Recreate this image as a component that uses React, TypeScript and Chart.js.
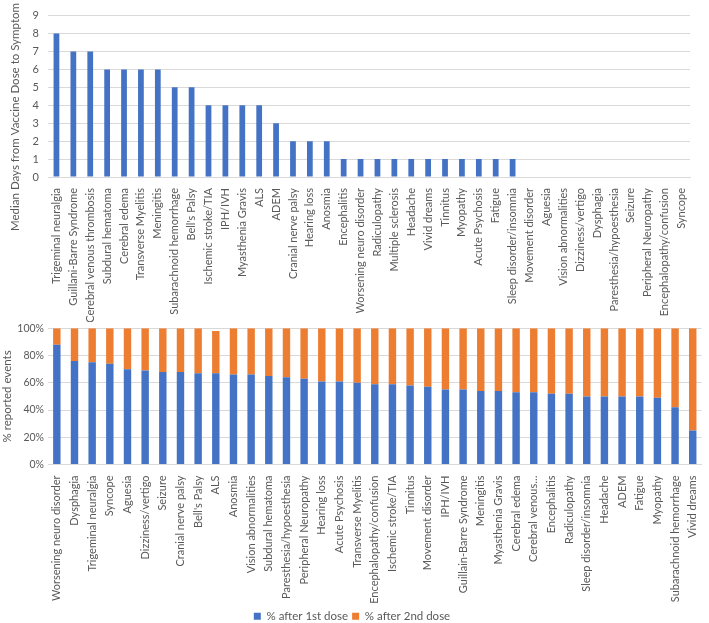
import React, { useEffect, useRef } from "react";
import { Chart, registerables } from "chart.js";

Chart.register(...registerables);

const topCategories = [
  "Trigeminal neuralgia", "Guillani-Barre Syndrome", "Cerebral venous thrombosis", "Subdural hematoma",
  "Cerebral edema", "Transverse Myelitis", "Meningitis", "Subarachnoid hemorrhage", "Bell's Palsy",
  "Ischemic stroke/TIA", "IPH/IVH", "Myasthenia Gravis", "ALS", "ADEM", "Cranial nerve palsy",
  "Hearing loss", "Anosmia", "Encephalitis", "Worsening neuro disorder", "Radiculopathy",
  "Multiple sclerosis", "Headache", "Vivid dreams", "Tinnitus", "Myopathy", "Acute Psychosis",
  "Fatigue", "Sleep disorder/insomnia", "Movement disorder", "Aguesia", "Vision abnormalities",
  "Dizziness/vertigo", "Dysphagia", "Paresthesia/hypoesthesia", "Seizure", "Peripheral Neuropathy",
  "Encephalopathy/confusion", "Syncope",
];
const medianDays = [
  8, 7, 7, 6, 6, 6, 6, 5, 5, 4, 4, 4, 4, 3, 2, 2, 2, 1, 1, 1, 1, 1, 1, 1, 1, 1, 1, 1,
  0, 0, 0, 0, 0, 0, 0, 0, 0, 0,
];
const topTicks = [0, 1, 2, 3, 4, 5, 6, 7, 8, 9];
const topTitle = "Median Days from Vaccine Dose to Symptom";

const bottomCategories = [
  "Worsening neuro disorder", "Dysphagia", "Trigeminal neuralgia", "Syncope", "Aguesia",
  "Dizziness/vertigo", "Seizure", "Cranial nerve palsy", "Bell's Palsy", "ALS", "Anosmia",
  "Vision abnormalities", "Subdural hematoma", "Paresthesia/hypoesthesia", "Peripheral Neuropathy",
  "Hearing loss", "Acute Psychosis", "Transverse Myelitis", "Encephalopathy/confusion",
  "Ischemic stroke/TIA", "Tinnitus", "Movement disorder", "IPH/IVH", "Guillain-Barre Syndrome",
  "Meningitis", "Myasthenia Gravis", "Cerebral edema", "Cerebral venous…", "Encephalitis",
  "Radiculopathy", "Sleep disorder/insomnia", "Headache", "ADEM", "Fatigue", "Myopathy",
  "Subarachnoid hemorrhage", "Vivid dreams",
];
const afterFirstDose = [
  88, 76, 75, 74, 70, 69, 68, 68, 67, 67, 66, 66, 65, 64, 63, 61, 61, 60, 59, 59, 58, 57,
  55, 55, 54, 54, 53, 53, 52, 52, 50, 50, 50, 50, 49, 42, 25,
];
const afterSecondDose = [
  12, 24, 25, 26, 30, 31, 32, 32, 33, 31, 34, 34, 35, 36, 37, 39, 39, 40, 41, 41, 42, 43,
  45, 45, 46, 46, 47, 47, 48, 48, 50, 50, 50, 50, 51, 58, 75,
];
const percentTicks = [0, 10, 20, 30, 40, 50, 60, 70, 80, 90, 100];

const BLUE = "#4472C4";
const ORANGE = "#ED7D31";
const GRID = "#D9D9D9";
const TEXT = "#595959";
const FONT = "Lato, 'Open Sans', sans-serif";

export default function App() {
  const topRef = useRef<HTMLCanvasElement>(null);
  const botRef = useRef<HTMLCanvasElement>(null);

  useEffect(() => {
    Chart.defaults.font.family = FONT;
    Chart.defaults.color = TEXT;

    const yTitlePlugin = {
      id: "yTitle",
      afterDraw(chart: any) {
        const ctx = chart.ctx;
        ctx.save();
        ctx.translate(15, 117);
        ctx.rotate(-Math.PI / 2);
        ctx.font = "11.5px " + FONT;
        ctx.fillStyle = TEXT;
        ctx.textAlign = "center";
        ctx.textBaseline = "middle";
        ctx.fillText(topTitle, 0, 0);
        ctx.restore();
      },
    };

    const top = new Chart(topRef.current!, {
      type: "bar",
      data: {
        labels: topCategories,
        datasets: [
          {
            label: "Median days",
            data: medianDays,
            backgroundColor: BLUE,
            barPercentage: 0.34,
            categoryPercentage: 1,
          },
        ],
      },
      options: {
        animation: false,
        responsive: false,
        layout: { padding: { top: 0, right: 19, left: 0, bottom: 0 } },
        plugins: { legend: { display: false }, tooltip: { enabled: false } },
        scales: {
          x: {
            grid: { display: false },
            border: { color: GRID },
            ticks: {
              autoSkip: false,
              minRotation: 90,
              maxRotation: 90,
              font: { size: 11 },
              color: TEXT,
              padding: 3,
            },
            afterFit: (s: any) => {
              s.height = 145;
            },
          },
          y: {
            min: 0,
            max: 9,
            afterBuildTicks: (s: any) => {
              s.ticks = topTicks.map((v) => ({ value: v }));
            },
            grid: { color: GRID, drawTicks: false },
            border: { display: false },
            ticks: { font: { size: 11 }, color: TEXT, padding: 9 },
            afterFit: (s: any) => {
              s.width = 48;
            },
          },
        },
      },
      plugins: [yTitlePlugin],
    });

    const bot = new Chart(botRef.current!, {
      type: "bar",
      data: {
        labels: bottomCategories,
        datasets: [
          {
            label: "% after 1st dose",
            data: afterFirstDose,
            backgroundColor: BLUE,
            barPercentage: 0.42,
            categoryPercentage: 1,
          },
          {
            label: "% after 2nd dose",
            data: afterSecondDose,
            backgroundColor: ORANGE,
            barPercentage: 0.42,
            categoryPercentage: 1,
          },
        ],
      },
      options: {
        animation: false,
        responsive: false,
        layout: { padding: { top: 0, right: 5, left: 0, bottom: -9 } },
        plugins: {
          legend: {
            display: true,
            position: "bottom",
            labels: {
              boxWidth: 7,
              boxHeight: 7,
              font: { size: 11.5 },
              color: TEXT,
              padding: 4,
            },
          },
          tooltip: { enabled: false },
        },
        scales: {
          x: {
            stacked: true,
            grid: { display: false },
            border: { color: GRID },
            ticks: {
              autoSkip: false,
              minRotation: 90,
              maxRotation: 90,
              font: { size: 11 },
              color: TEXT,
              padding: 3,
            },
            afterFit: (s: any) => {
              s.height = 142;
            },
          },
          y: {
            stacked: true,
            min: 0,
            max: 100,
            afterBuildTicks: (s: any) => {
              s.ticks = percentTicks.map((v) => ({ value: v }));
            },
            grid: { color: GRID, drawTicks: false },
            border: { display: false },
            ticks: {
              font: { size: 10.5 },
              color: TEXT,
              padding: 4,
              callback: (v: any) => v + "%",
            },
            title: {
              display: true,
              text: "% reported events",
              font: { size: 11.5 },
              color: TEXT,
              padding: 0,
            },
            afterFit: (s: any) => {
              s.width = 48;
            },
          },
        },
      },
    });

    return () => {
      top.destroy();
      bot.destroy();
    };
  }, []);

  return (
    <div style={{ position: "fixed", left: 0, top: 0, width: 709, height: 623, background: "#fff" }}>
      <canvas
        ref={topRef}
        width={709}
        height={322}
        style={{ display: "block", position: "absolute", left: 0, top: 0 }}
      />
      <canvas
        ref={botRef}
        width={709}
        height={305}
        style={{ display: "block", position: "absolute", left: 0, top: 318 }}
      />
    </div>
  );
}
